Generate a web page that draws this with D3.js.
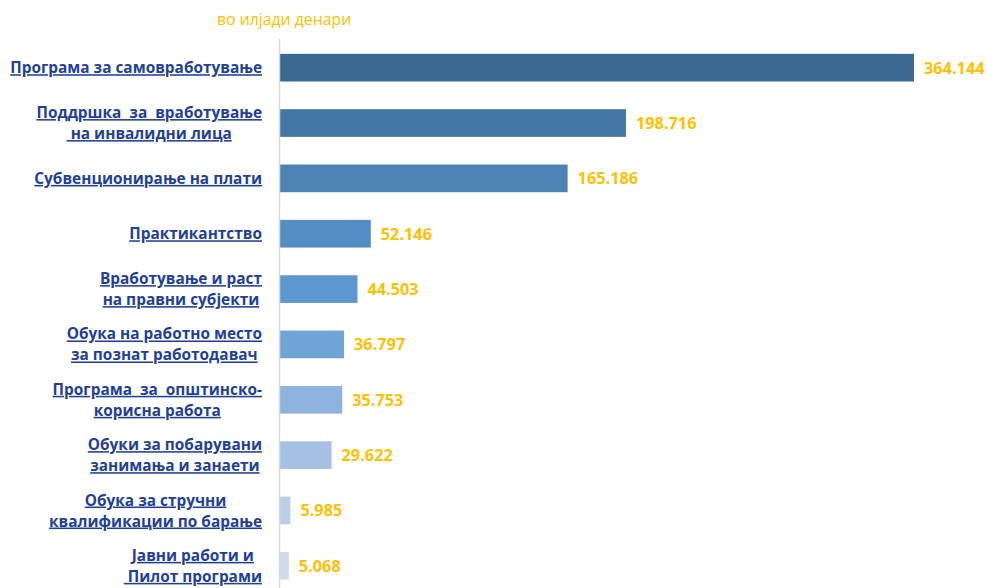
<!DOCTYPE html>
<html>
<head>
<meta charset="utf-8">
<script src="https://d3js.org/d3.v7.min.js"></script>
<style>
  body { margin: 0; background: #fff; }
  svg text { white-space: pre; }
</style>
</head>
<body>
<svg id="chart" width="987" height="588"></svg>
<script>
// data
const labels = [
  ["Програма за самовработување"],
  ["Поддршка  за  вработување", " на инвалидни лица"],
  ["Субвенционирање на плати"],
  ["Практикантство"],
  ["Вработување и раст", "на правни субјекти"],
  ["Обука на работно место", "за познат работодавач"],
  ["Програма  за  општинско-", "корисна работа"],
  ["Обуки за побарувани", "занимања и занаети"],
  ["Обука за стручни", "квалификации по барање"],
  ["Јавни работи и", " Пилот програми"]
]
const values = [364.144, 198.716, 165.186, 52.146, 44.503, 36.797, 35.753, 29.622, 5.985, 5.068]
const valueLabels = ["364.144", "198.716", "165.186", "52.146", "44.503", "36.797", "35.753", "29.622", "5.985", "5.068"]
const barColors = ["#3c6990", "#4476a5", "#4d82b7", "#548dc4", "#5b98d0", "#70a4d6", "#8eb3de", "#a5c0e3", "#bccfe9", "#cfdcee"]
const unitLabel = "во илјади денари"

const axisX = 280
const labelRight = 262
const font = "'Open Sans', 'Noto Sans', sans-serif"

const svg = d3.select("#chart")
const idx = d3.range(values.length)

const x = d3.scaleLinear()
  .domain([0, 364.144])
  .range([axisX, 914])

const y = d3.scaleBand()
  .domain(idx)
  .range([40, 593.5])
  .paddingInner(0.5)
  .paddingOuter(0.25)

// unit caption
svg.append("text")
  .attr("x", 217)
  .attr("y", 25)
  .attr("fill", "#ffc000")
  .style("font-family", font)
  .style("font-size", "15.8px")
  .text(unitLabel)

// bars
svg.selectAll(".bar")
  .data(idx)
  .join("rect")
    .attr("class", "bar")
    .attr("x", x(0))
    .attr("y", d => y(d))
    .attr("width", d => x(values[d]) - x(0))
    .attr("height", y.bandwidth())
    .attr("fill", d => barColors[d])

// vertical axis line
svg.append("line")
  .attr("x1", axisX - 0.5).attr("x2", axisX - 0.5)
  .attr("y1", 39).attr("y2", 588)
  .attr("stroke", "#d9d9d9")
  .attr("stroke-width", 1.5)

// value labels
svg.selectAll(".val")
  .data(idx)
  .join("text")
    .attr("class", "val")
    .attr("x", d => x(values[d]) + 10)
    .attr("y", d => y(d) + y.bandwidth() / 2)
    .attr("dy", "0.36em")
    .attr("fill", "#ffc000")
    .style("font-family", font)
    .style("font-size", "16.3px")
    .style("font-weight", "bold")
    .text(d => valueLabels[d])

// category labels, lines centred inside a right-aligned block
const lineH = 21
idx.forEach(i => {
  const lines = labels[i]
  const cy = y(i) + y.bandwidth() / 2
  const g = svg.append("g")
  const t = g.selectAll("text")
    .data(lines)
    .join("text")
      .attr("y", (d, j) => cy + (j - (lines.length - 1) / 2) * lineH)
      .attr("dy", "0.36em")
      .attr("text-anchor", "middle")
      .attr("fill", "#1f3f99")
      .style("font-family", font)
      .style("font-size", "15.4px")
      .style("font-weight", "bold")
      .style("text-decoration", "underline")
      .text(d => d)
  let w = 0
  t.each(function () { w = Math.max(w, this.getComputedTextLength()) })
  t.attr("x", labelRight - w / 2)
})
</script>
</body>
</html>
